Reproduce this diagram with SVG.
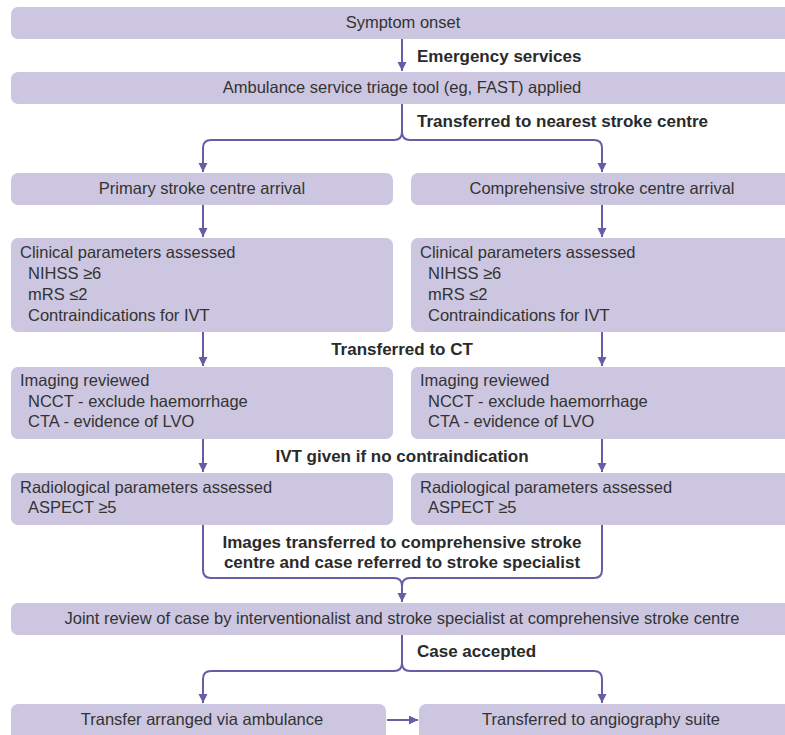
<svg xmlns="http://www.w3.org/2000/svg" width="785" height="735" viewBox="0 0 785 735">
<defs>
<marker id="ah" markerUnits="userSpaceOnUse" markerWidth="10" markerHeight="10" refX="9" refY="4.5" orient="auto">
<path d="M0,0 L9,4.5 L0,9 z" fill="#6b5ba7"/>
</marker>
<style>
.box{fill:#ccc6e0;}
.t{font-family:"Liberation Sans",Arial,sans-serif;font-size:16.5px;fill:#333;}
.c{text-anchor:middle;}
.b{font-family:"Liberation Sans",Arial,sans-serif;font-size:17px;font-weight:bold;fill:#2a2a2a;}
.ln{fill:none;stroke:#6b5ba7;stroke-width:2;}
.ar{marker-end:url(#ah);}
</style>
</defs>
<rect width="785" height="735" fill="#fff"/>
<g id="connectors">
<path class="ln ar" d="M402,39 V71"/>
<path class="ln ar" d="M402,104 V132 Q402,140 394,140 H211 Q203,140 203,148 V172"/>
<path class="ln ar" d="M402,132 Q402,140 410,140 H594 Q602,140 602,148 V172"/>
<path class="ln ar" d="M203,205 V237"/>
<path class="ln ar" d="M602,205 V237"/>
<path class="ln ar" d="M203,332 V366"/>
<path class="ln ar" d="M602,332 V366"/>
<path class="ln ar" d="M203,439 V472"/>
<path class="ln ar" d="M602,439 V472"/>
<path class="ln ar" d="M203,525 V570 Q203,578 211,578 H394 Q402,578 402,586 V602"/>
<path class="ln" d="M602,525 V570 Q602,578 594,578 H410 Q402,578 402,586"/>
<path class="ln ar" d="M402,635 V663 Q402,671 394,671 H211 Q203,671 203,679 V703"/>
<path class="ln ar" d="M402,663 Q402,671 410,671 H594 Q602,671 602,679 V703"/>
<path class="ln ar" d="M387,720 H418"/>
</g>
<g id="labels">
<text class="b" x="417" y="62">Emergency services</text>
<text class="b" x="417" y="127">Transferred to nearest stroke centre</text>
<text class="b c" x="402" y="355">Transferred to CT</text>
<text class="b c" x="402" y="462">IVT given if no contraindication</text>
<text class="b c" x="402" y="548">Images transferred to comprehensive stroke</text>
<text class="b c" x="402" y="568">centre and case referred to stroke specialist</text>
<text class="b" x="417" y="657">Case accepted</text>
</g>
<g id="n-onset">
<rect class="box" x="11" y="7" width="790" height="32" rx="7"/>
<text class="t c" x="403" y="28">Symptom onset</text>
</g>
<g id="n-triage">
<rect class="box" x="11" y="72" width="790" height="32" rx="7"/>
<text class="t c" x="402" y="93">Ambulance service triage tool (eg, FAST) applied</text>
</g>
<g id="n-primary">
<rect class="box" x="11" y="173" width="382" height="32" rx="7"/>
<text class="t c" x="202" y="194">Primary stroke centre arrival</text>
</g>
<g id="n-comprehensive">
<rect class="box" x="411" y="173" width="390" height="32" rx="7"/>
<text class="t c" x="602" y="194">Comprehensive stroke centre arrival</text>
</g>
<g id="n-clinical-left">
<rect class="box" x="11" y="238" width="382" height="94" rx="7"/>
<text class="t" x="20" y="258">Clinical parameters assessed</text>
<text class="t" x="28" y="279">NIHSS ≥6</text>
<text class="t" x="28" y="300">mRS ≤2</text>
<text class="t" x="28" y="321">Contraindications for IVT</text>
</g>
<g id="n-clinical-right">
<rect class="box" x="411" y="238" width="390" height="94" rx="7"/>
<text class="t" x="420" y="258">Clinical parameters assessed</text>
<text class="t" x="428" y="279">NIHSS ≥6</text>
<text class="t" x="428" y="300">mRS ≤2</text>
<text class="t" x="428" y="321">Contraindications for IVT</text>
</g>
<g id="n-imaging-left">
<rect class="box" x="11" y="367" width="382" height="72" rx="7"/>
<text class="t" x="20" y="386">Imaging reviewed</text>
<text class="t" x="28" y="407">NCCT - exclude haemorrhage</text>
<text class="t" x="28" y="427">CTA - evidence of LVO</text>
</g>
<g id="n-imaging-right">
<rect class="box" x="411" y="367" width="390" height="72" rx="7"/>
<text class="t" x="420" y="386">Imaging reviewed</text>
<text class="t" x="428" y="407">NCCT - exclude haemorrhage</text>
<text class="t" x="428" y="427">CTA - evidence of LVO</text>
</g>
<g id="n-radio-left">
<rect class="box" x="11" y="473" width="382" height="52" rx="7"/>
<text class="t" x="20" y="493">Radiological parameters assessed</text>
<text class="t" x="28" y="513">ASPECT ≥5</text>
</g>
<g id="n-radio-right">
<rect class="box" x="411" y="473" width="390" height="52" rx="7"/>
<text class="t" x="420" y="493">Radiological parameters assessed</text>
<text class="t" x="428" y="513">ASPECT ≥5</text>
</g>
<g id="n-joint">
<rect class="box" x="11" y="603" width="790" height="32" rx="7"/>
<text class="t c" x="402" y="624">Joint review of case by interventionalist and stroke specialist at comprehensive stroke centre</text>
</g>
<g id="n-ambulance">
<rect class="box" x="11" y="704" width="375" height="40" rx="7"/>
<text class="t c" x="202" y="725">Transfer arranged via ambulance</text>
</g>
<g id="n-angio">
<rect class="box" x="419" y="704" width="380" height="40" rx="7"/>
<text class="t c" x="601" y="725">Transferred to angiography suite</text>
</g>
</svg>
